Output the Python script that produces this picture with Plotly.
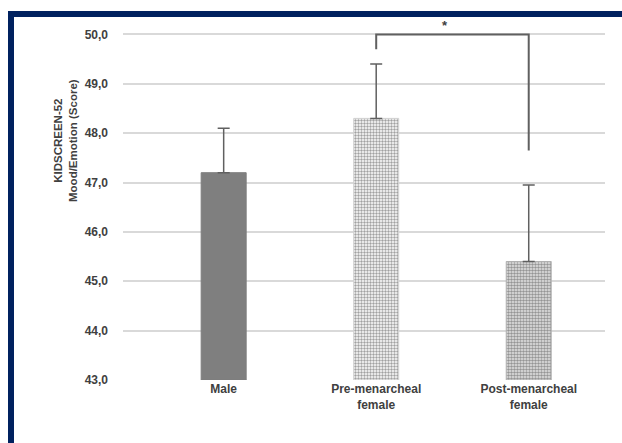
import plotly.graph_objects as go

categories = ["Male", "Pre-menarcheal<br>female", "Post-menarcheal<br>female"]
means = [47.2, 48.3, 45.4]
err_up = [0.9, 1.1, 1.55]
y_ticks = [43, 44, 45, 46, 47, 48, 49, 50]
bracket_left_y = 49.7
bracket_top_y = 50.0
bracket_right_y = 47.65
sig_label = "*"

W, H = 622, 443
ml, mt = 123, 32
mr = W - 605
mb = H - 380
pw, ph = W - ml - mr, H - mt - mb

def px(x):  # page x -> paper
    return (x - ml) / pw

def py(y):  # page y -> paper
    return (H - mb - y) / ph

xs = list(range(len(categories)))
fig = go.Figure()
fig.add_trace(go.Bar(
    x=xs, y=[m - 43 for m in means], base=43, width=0.295,
    marker=dict(
        color=["#7f7f7f", "#ffffff", "#e6e6e6"],
        line=dict(color=["#7f7f7f", "#d0d0d0", "#b0b0b0"], width=1),
        pattern=dict(shape=["", ".", "."], fgcolor=["#7f7f7f", "#c4c4c4", "#8a8a8a"],
                     bgcolor=["#7f7f7f", "#ffffff", "#d8d8d8"],
                     size=[4, 3, 3], solidity=[0.5, 0.5, 0.55]),
    ),
    error_y=dict(type="data", symmetric=False, array=err_up, arrayminus=[0] * 3,
                 color="#606060", thickness=1.5, width=6),
    showlegend=False,
))

# significance bracket
fig.add_shape(type="path", xref="x", yref="y",
              path=f"M 1,{bracket_left_y} L 1,{bracket_top_y} L 2,{bracket_top_y} L 2,{bracket_right_y}",
              line=dict(color="#606060", width=2))
fig.add_annotation(x=1.45, y=bracket_top_y, xref="x", yref="y", text=f"<b>{sig_label}</b>",
                   showarrow=False, yshift=9, font=dict(size=13, color="#404040"))

# y-axis title
fig.add_annotation(x=px(65), y=py(141), xref="paper", yref="paper", textangle=-90,
                   text="<b>KIDSCREEN-52<br>Mood/Emotion (Score)</b>", showarrow=False,
                   font=dict(size=11.5, color="#404040"), xanchor="center", yanchor="middle")

# dark frame (top and left)
navy = "#00215f"
fig.add_shape(type="rect", xref="paper", yref="paper", x0=px(8), x1=px(640), y0=py(17), y1=py(11),
              fillcolor=navy, line=dict(width=0), layer="above")
fig.add_shape(type="rect", xref="paper", yref="paper", x0=px(8), x1=px(14), y0=py(460), y1=py(11),
              fillcolor=navy, line=dict(width=0), layer="above")

fig.update_layout(
    width=W, height=H, margin=dict(l=ml, r=mr, t=mt, b=mb),
    paper_bgcolor="white", plot_bgcolor="white",
    font=dict(family="Liberation Sans, Arial, sans-serif", color="#404040"),
    xaxis=dict(tickvals=xs, ticktext=[f"<b>{c}</b>" for c in categories], range=[-0.66, 2.5],
               showgrid=False, zeroline=False, showline=False, ticks="",
               tickfont=dict(size=12, color="#404040")),
    yaxis=dict(range=[43, 50.05], tickvals=y_ticks,
               ticktext=[f"<b>{v:.1f}</b>".replace(".", ",") for v in y_ticks],
               showgrid=True, gridcolor="#d9d9d9", gridwidth=1.5, zeroline=False,
               showline=False, ticks="", ticklabelstandoff=14,
               tickfont=dict(size=12, color="#404040")),
)

fig.write_html("out.html", config={"displayModeBar": False},
               post_script="document.body.style.margin='0';document.body.style.overflow='hidden';")
